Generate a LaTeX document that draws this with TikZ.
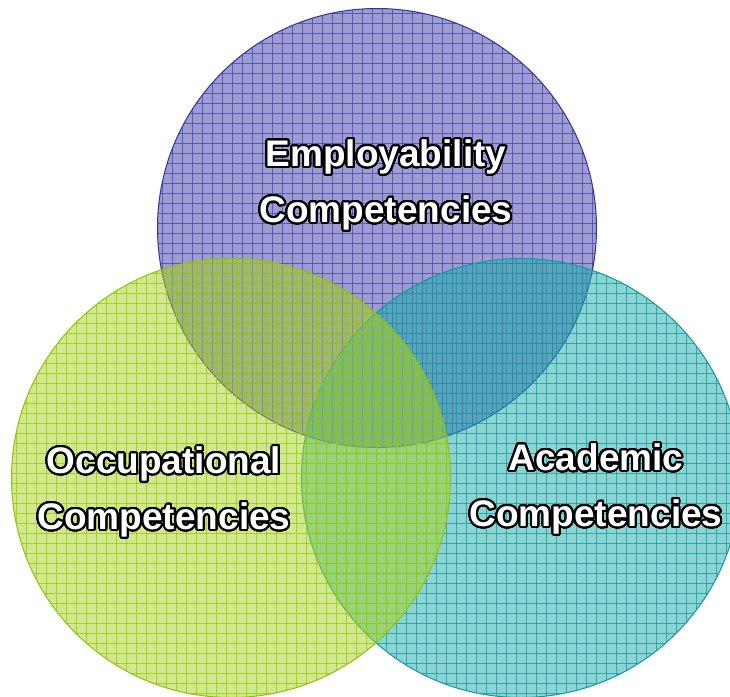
\documentclass[tikz,border=0pt]{standalone}
\usepackage{fontspec}
\setmainfont{Liberation Sans}
\usepackage{contour}
\contourlength{2pt}
\contournumber{32}
\definecolor{empfill}{RGB}{60,60,170}
\definecolor{empline}{RGB}{70,70,170}
\definecolor{empedge}{RGB}{50,50,150}
\definecolor{occfill}{RGB}{165,210,30}
\definecolor{occline}{RGB}{150,200,10}
\definecolor{occedge}{RGB}{140,195,10}
\definecolor{acafill}{RGB}{25,170,170}
\definecolor{acaline}{RGB}{20,155,155}
\definecolor{acaedge}{RGB}{20,150,160}
\tikzset{
  venn/.style={circle, minimum size=439pt, inner sep=0pt, fill opacity=0.5, line width=1pt,
    path picture={
      \foreach \i in {-225,-215,...,225}{
        \draw[#1, line width=0.9pt, draw opacity=0.75]
          ([xshift=\i pt]path picture bounding box.center) ++(0,-230) -- ++(0,460);
        \draw[#1, line width=0.9pt, draw opacity=0.75]
          ([yshift=\i pt]path picture bounding box.center) ++(-230,0) -- ++(460,0);
      }}},
  label text/.style={text=white, font=\bfseries\fontsize{37}{56}\selectfont, align=center, text opacity=1}
}
\begin{document}
\begin{tikzpicture}[x=1pt,y=-1pt]
\useasboundingbox (0,0) rectangle (730,696);
\node[venn=empline, fill=empfill, draw=empedge] (emp) at (377,228) {};
\node[venn=acaline, fill=acafill, draw=acaedge] (aca) at (521,478) {};
\node[venn=occline, fill=occfill, draw=occedge] (occ) at (231,478) {};
\node[label text] (empt) at (386,186) {\contour{black}{Employability}\\\contour{black}{Competencies}};
\node[label text] (occt) at (164,493) {\contour{black}{Occupational}\\\contour{black}{Competencies}};
\node[label text] (acat) at (596,490) {\contour{black}{Academic}\\\contour{black}{Competencies}};
\end{tikzpicture}
\end{document}
